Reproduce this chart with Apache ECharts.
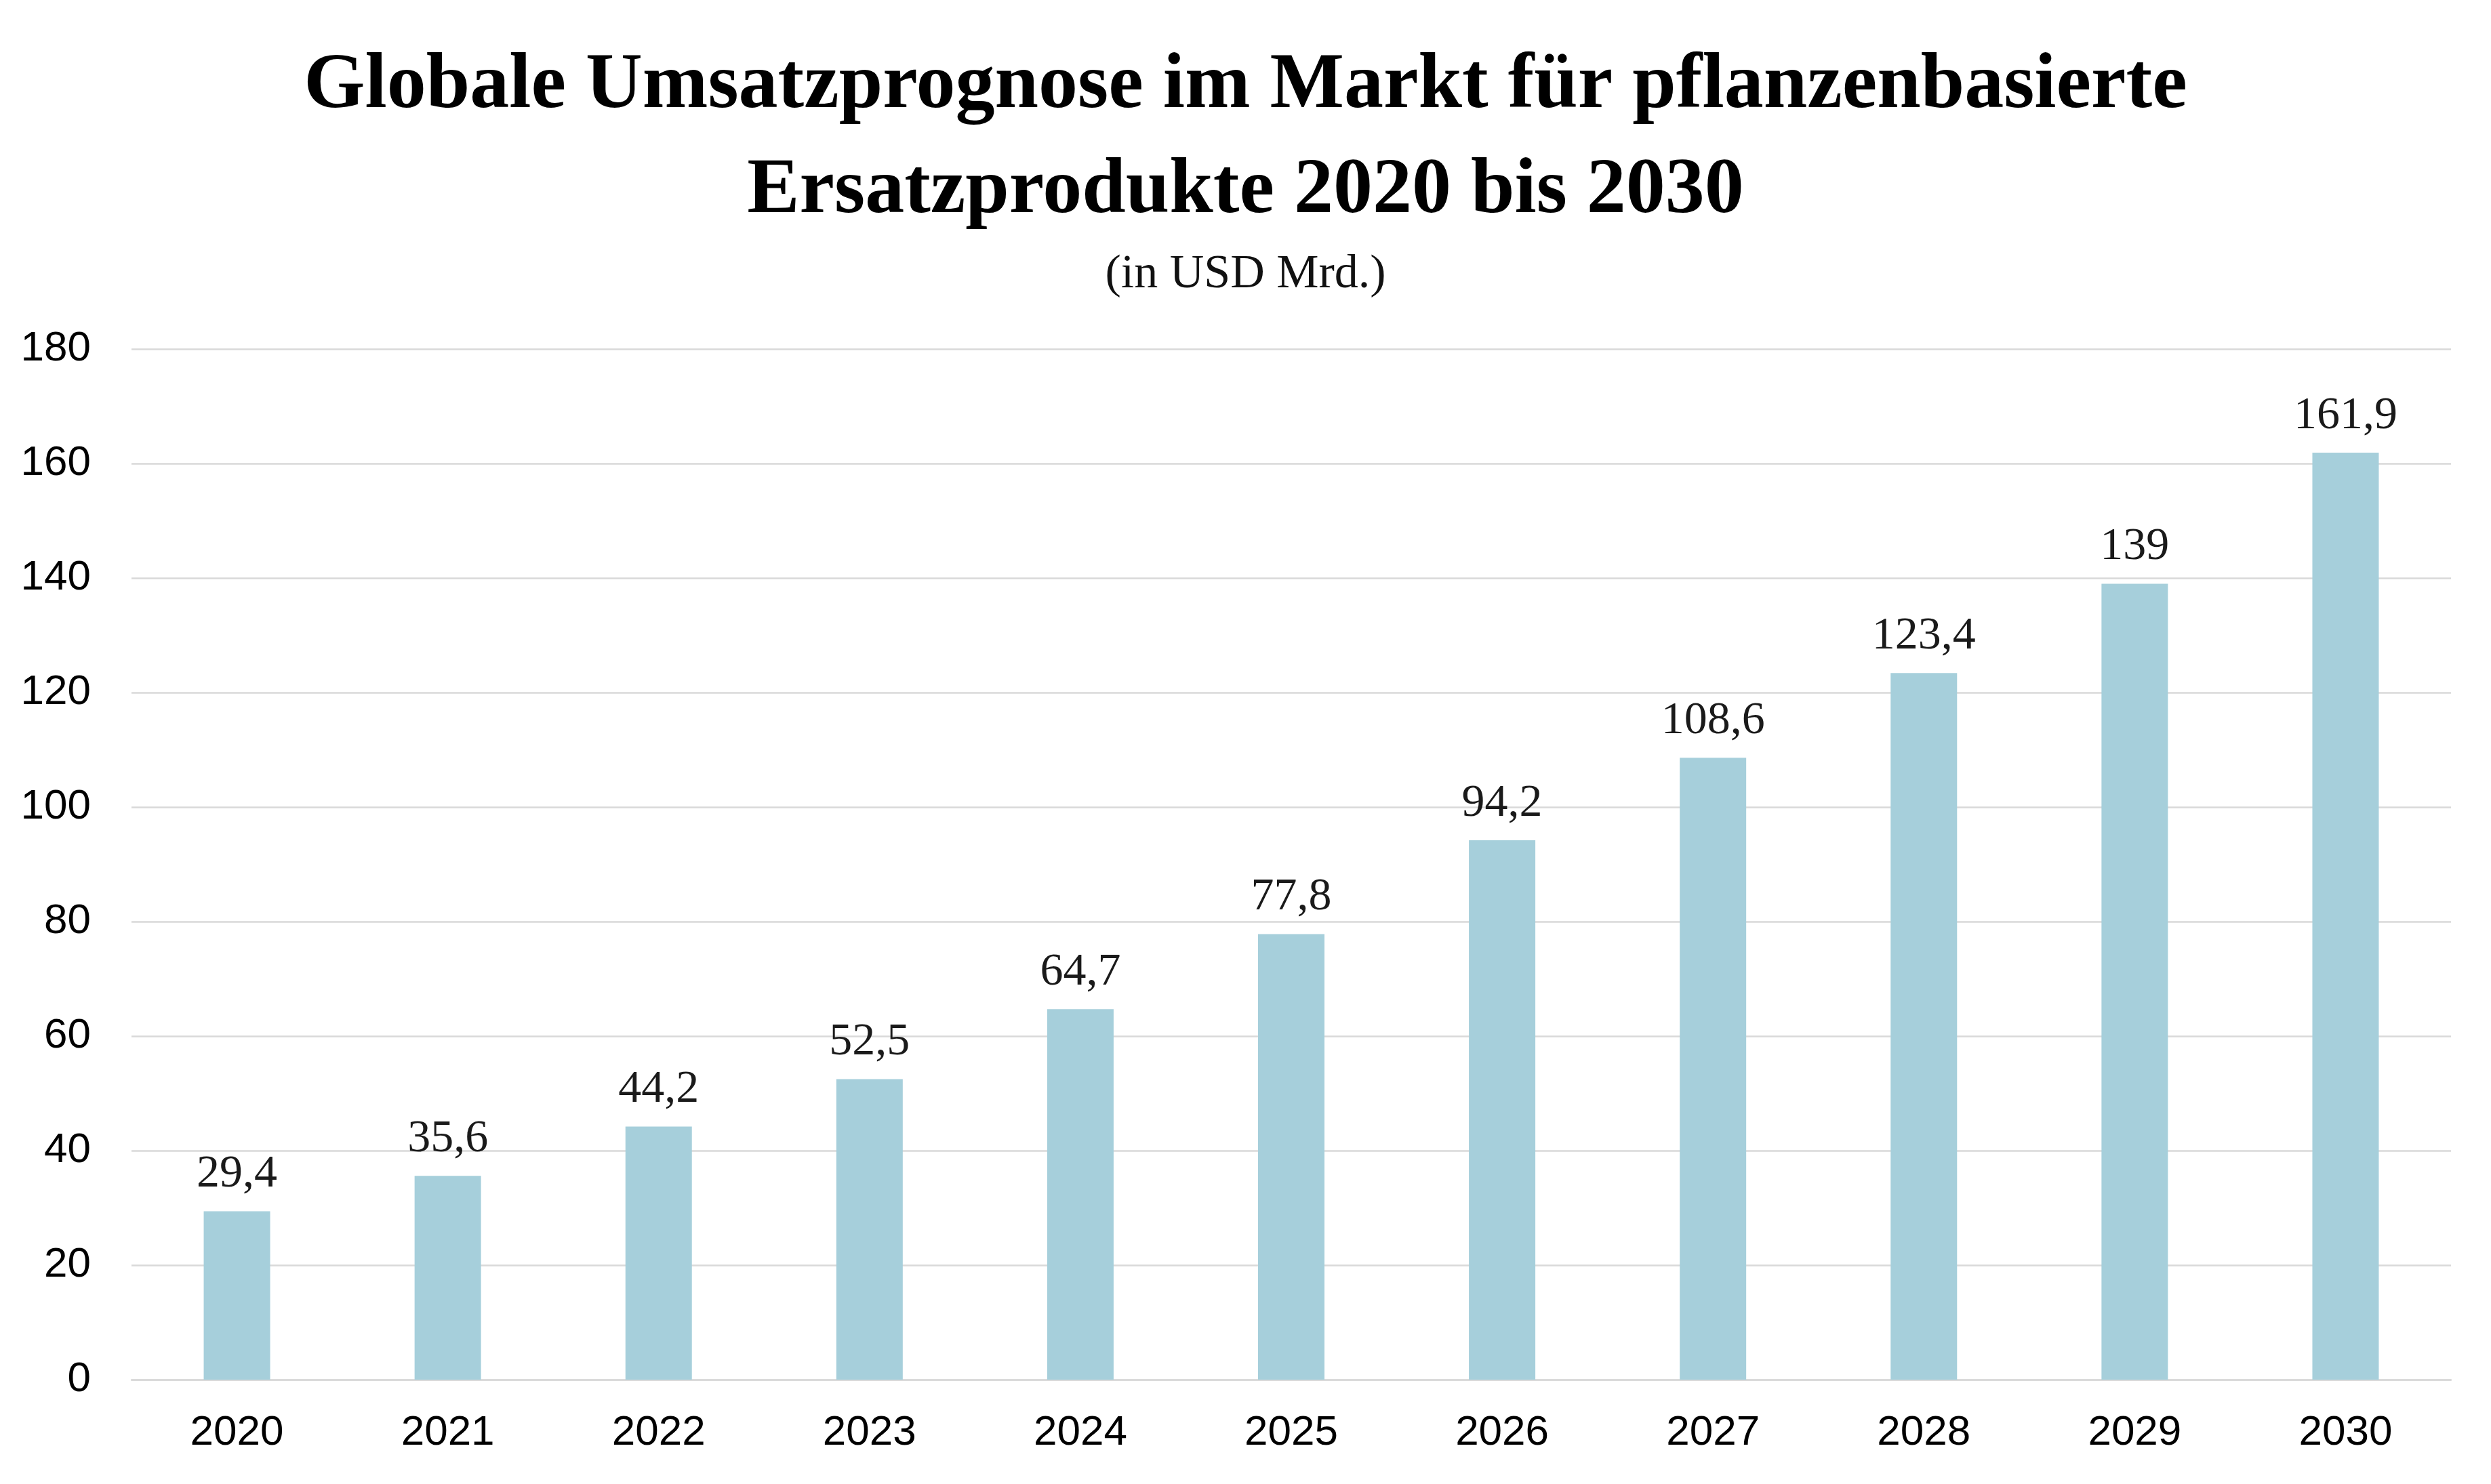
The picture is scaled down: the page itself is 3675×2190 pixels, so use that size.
<!DOCTYPE html>
<html>
<head>
<meta charset="utf-8">
<title>Globale Umsatzprognose</title>
<script src="https://cdn.jsdelivr.net/npm/echarts@6/dist/echarts.min.js"></script>
<style>
  html, body { margin: 0; padding: 0; background: #fff; }
  #main { width: 3675px; height: 2190px; }
</style>
</head>
<body>
<div id="main"></div>
<script>
var years = ['2020', '2021', '2022', '2023', '2024', '2025', '2026', '2027', '2028', '2029', '2030'];
var umsatz = [29.4, 35.6, 44.2, 52.5, 64.7, 77.8, 94.2, 108.6, 123.4, 139, 161.9];
var yMin = 0, yMax = 180, yStep = 20;

window.onload = function () {
    var myChart = echarts.init(document.getElementById('main'));

    var option = {
        backgroundColor: '#ffffff',
        animation: false,
        title: [
            {
                text: 'Globale Umsatzprognose im Markt für pflanzenbasierte\nErsatzprodukte 2020 bis 2030',
                left: 'center',
                top: 46,
                textStyle: {
                    fontFamily: 'Liberation Serif',
                    fontWeight: 'bold',
                    fontSize: 116,
                    lineHeight: 155,
                    color: '#000'
                }
            },
            {
                text: '(in USD Mrd.)',
                left: 'center',
                top: 366,
                textStyle: {
                    fontFamily: 'Liberation Serif',
                    fontWeight: 'normal',
                    fontSize: 70,
                    lineHeight: 70,
                    color: '#111'
                }
            }
        ],
        grid: {
            left: 194,
            right: 59,
            top: 515,
            bottom: 154
        },
        xAxis: {
            type: 'category',
            data: years,
            axisTick: { show: false },
            axisLine: { show: true, lineStyle: { color: '#d9d9d9', width: 2.5 } },
            axisLabel: {
                margin: 48,
                fontFamily: 'Liberation Sans',
                fontSize: 62,
                color: '#000'
            }
        },
        yAxis: {
            type: 'value',
            min: yMin,
            max: yMax,
            interval: yStep,
            axisLine: { show: false },
            axisTick: { show: false },
            splitLine: { lineStyle: { color: '#d9d9d9', width: 2.5 } },
            axisLabel: {
                margin: 60,
                fontFamily: 'Liberation Sans',
                fontSize: 62,
                color: '#000'
            }
        },
        series: [
            {
                name: 'Umsatz',
                type: 'bar',
                data: umsatz,
                barWidth: 98,
                itemStyle: { color: '#a6cfdb' },
                label: {
                    show: true,
                    position: 'top',
                    distance: 20,
                    fontFamily: 'Liberation Serif',
                    fontSize: 68,
                    color: '#1a1a1a',
                    formatter: function (p) {
                        return String(p.value).replace('.', ',');
                    }
                }
            }
        ]
    };

    myChart.setOption(option);
};
</script>
</body>
</html>
